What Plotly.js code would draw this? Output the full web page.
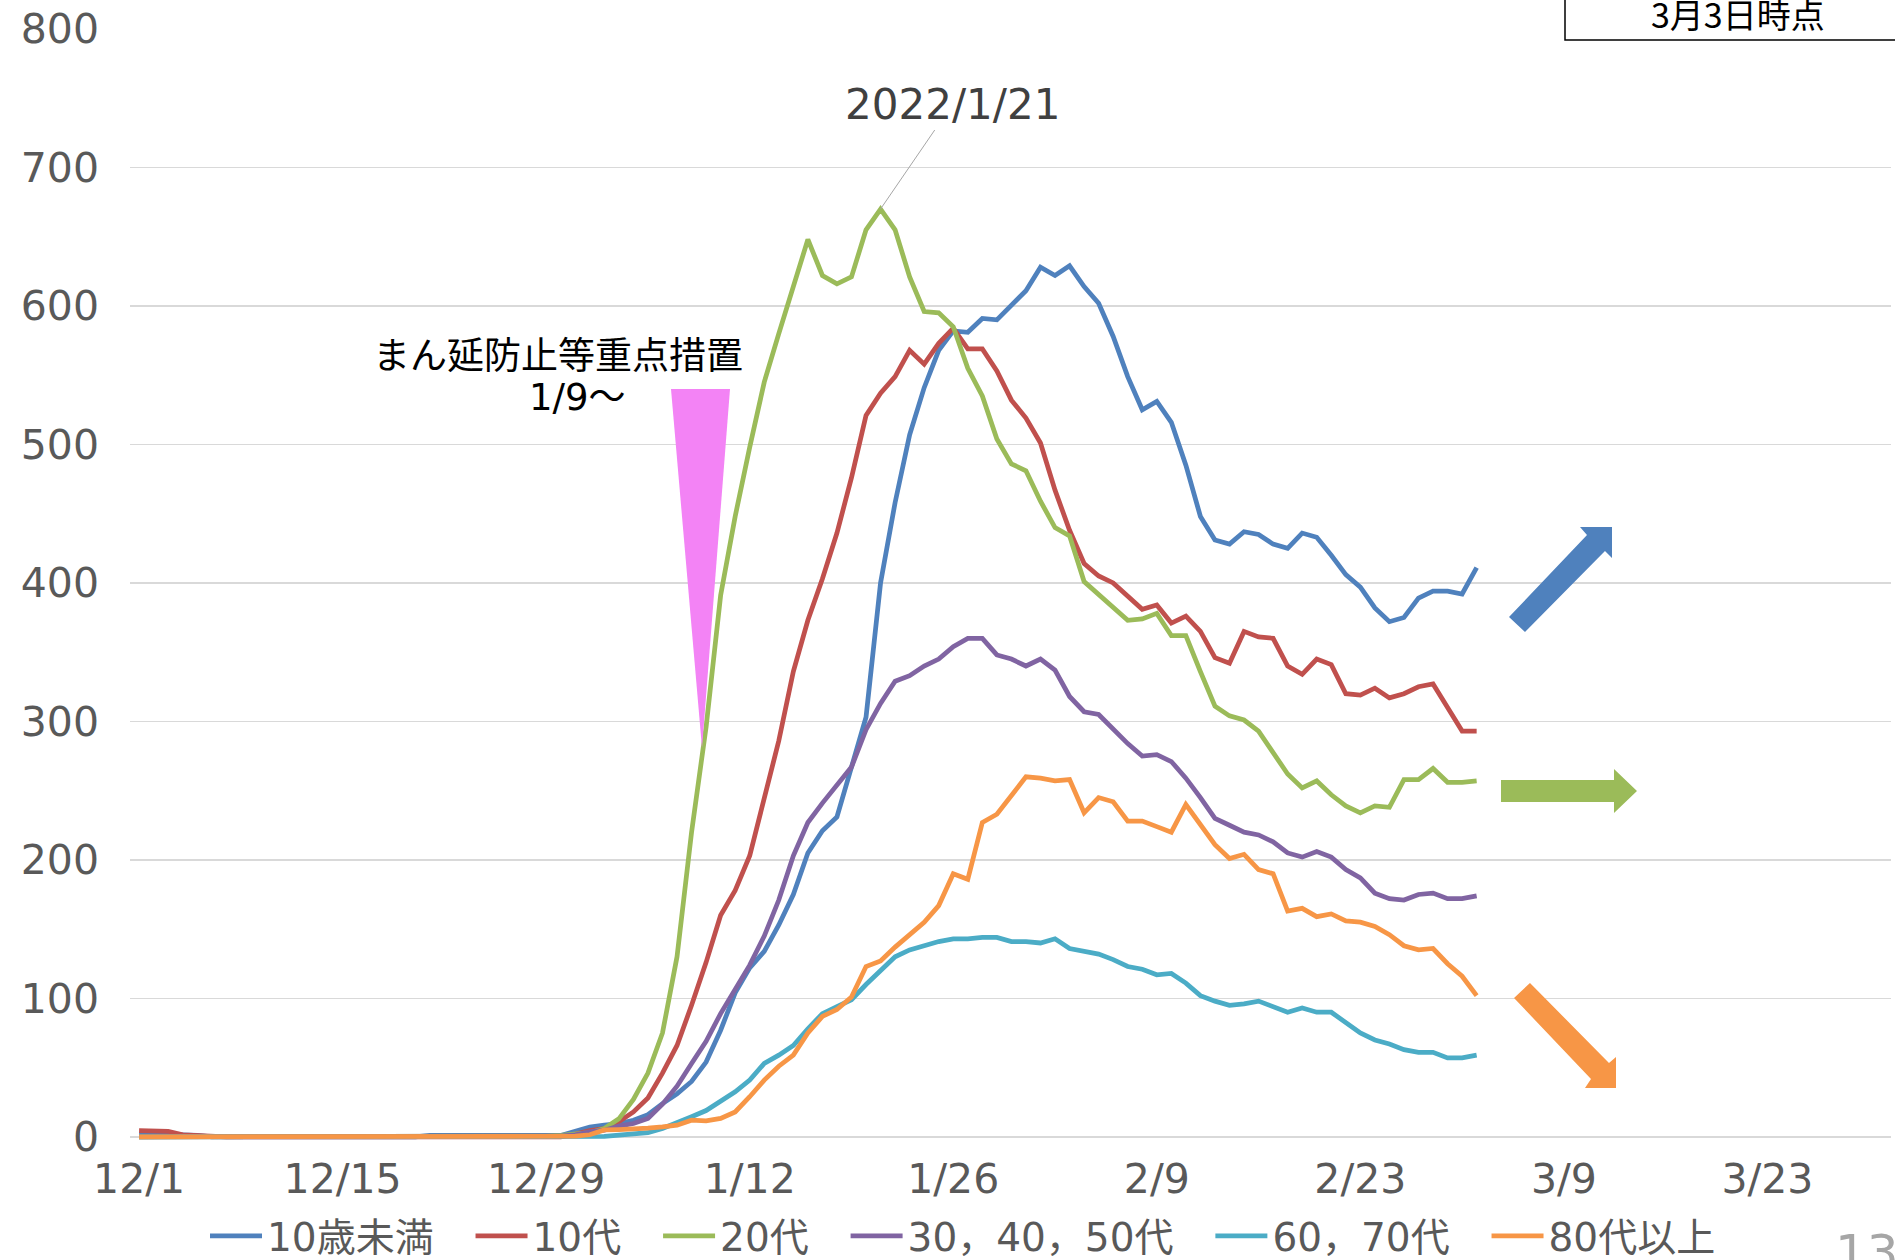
<!DOCTYPE html>
<html><head><meta charset="utf-8">
<script src="https://cdn.plot.ly/plotly-3.0.1.min.js"></script>
<style>html,body{margin:0;padding:0;background:#fff;} #chart{width:1895px;height:1260px;}</style>
</head><body><div id="chart"></div>
<script>
const dates = [
'2021-12-01','2021-12-02','2021-12-03','2021-12-04','2021-12-05','2021-12-06','2021-12-07','2021-12-08','2021-12-09','2021-12-10',
'2021-12-11','2021-12-12','2021-12-13','2021-12-14','2021-12-15','2021-12-16','2021-12-17','2021-12-18','2021-12-19','2021-12-20',
'2021-12-21','2021-12-22','2021-12-23','2021-12-24','2021-12-25','2021-12-26','2021-12-27','2021-12-28','2021-12-29','2021-12-30',
'2021-12-31','2022-01-01','2022-01-02','2022-01-03','2022-01-04','2022-01-05','2022-01-06','2022-01-07','2022-01-08','2022-01-09',
'2022-01-10','2022-01-11','2022-01-12','2022-01-13','2022-01-14','2022-01-15','2022-01-16','2022-01-17','2022-01-18','2022-01-19',
'2022-01-20','2022-01-21','2022-01-22','2022-01-23','2022-01-24','2022-01-25','2022-01-26','2022-01-27','2022-01-28','2022-01-29',
'2022-01-30','2022-01-31','2022-02-01','2022-02-02','2022-02-03','2022-02-04','2022-02-05','2022-02-06','2022-02-07','2022-02-08',
'2022-02-09','2022-02-10','2022-02-11','2022-02-12','2022-02-13','2022-02-14','2022-02-15','2022-02-16','2022-02-17','2022-02-18',
'2022-02-19','2022-02-20','2022-02-21','2022-02-22','2022-02-23','2022-02-24','2022-02-25','2022-02-26','2022-02-27','2022-02-28',
'2022-03-01','2022-03-02','2022-03-03'];

const tickVals = ['2021-12-01','2021-12-15','2021-12-29','2022-01-12','2022-01-26','2022-02-09','2022-02-23','2022-03-09','2022-03-23'];
const tickText = ['12/1','12/15','12/29','1/12','1/26','2/9','2/23','3/9','3/23'];

const seriesNames = ['10歳未満','10代','20代','30，40，50代','60，70代','80代以上'];

const under10 = [2,2,2,1.5,1, 0,0,0,0,0,0,0,0,0,0,0,0,0,0,0, 1,1,1,1,1,1,1,1,1,1,
 4,7,8.4,9.6,12,16,24,31,40,
 54,77,104,122,134,153,175,205,221,231,
 266,303,400,458,507,541,568,582,581,591,
 590,601,611,628,622,629,614,602,578,549,
 525,531,516,485,448,431,428,437,435,428,
 425,436,433,420,406,397,382,372,375,389,
 394,394,392,411];

const teens = [4.5,4.5,4,1.5,1, 0,0,0,0,0,0,0,0,0,0,0,0,0,0,0,0,0,0,0,0,0,0,0,0,0,
 2,4.5,6,11,18,28,46,66,95,
 126,160,178,203,243,286,336,373,403,436,
 476,521,537,549,568,558,573,584,569,569,
 553,532,519,501,467,438,414,405,400,390,
 381,384,371,376,365,346,342,365,361,360,
 340,334,345,341,320,319,324,317,320,325,
 327,310,293,293];

const twenties = [0,0,0,0,0,0,0,0,0,0,0,0,0,0,0,0,0,0,0,0,0,0,0,0,0,0,0,0,
 0.5,1,2,3,6,13,27,46,75,130,220,
 296,391,448,498,545,580,614,648,622,616,
 621,655,670,655,621,596,595,585,555,535,
 504,486,481,459,440,434,401,392,383,373,
 374,378,362,362,336,311,304,301,293,277,
 262,252,257,247,239,234,239,238,258,258,
 266,256,256,257];

const mid = [0,0,0,0,0,0,0,0,0,0,0,0,0,0,0,0,0,0,0,0, 0.5,0.5,0.5,0.5,0.5,0.5,0.5,0.5,0.5,0.5,
 1.5,3.6,4.8,7.7,9.6,13.3,23.6,36.6,53,
 69,89,106,124,145,171,203,227,241,254,
 267,294,313,329,333,340,345,354,360,360,
 348,345,340,345,337,318,307,305,294,284,
 275,276,271,259,245,230,225,220,218,213,
 205,202,206,202,193,187,176,172,171,175,
 176,172,172,174];

const senior = [0,0,0,0,0,0,0,0,0,0,0,0,0,0,0,0,0,0,0,0,0,0,0,0,0,0,0,0,0,0,0,0,
 0.3,1.2,2,3,6,10,14.5,
 19,26,32.5,41,53,59,66,78,89,94,
 99,110,120,130,135,138,141,143,143,144,
 144,141,141,140,143,136,134,132,128,123,
 121,117,118,111,102,98,95,96,98,94,
 90,93,90,90,83,75,70,67,63,61,
 61,57,57,59];

const over80 = [0,0,0,0,0,0,0,0,0,0,0,0,0,0,0,0,0,0,0,0,0,0,0,0,0,0,0,0,0,0.5,0.5,
 1.5,5,5.3,5.5,6.3,7.2,8.4,12,
 11.6,13.3,18,29,41,51,59,75,87,92,
 101,123,127,137,146,155,167,190,186,227,
 233,246,260,259,257,258,234,245,242,228,
 228,224,220,240,226,211,201,204,193,190,
 163,165,159,161,156,155,152,146,138,135,
 136,125,116,102];

const seriesValues = [under10, teens, twenties, mid, senior, over80];
const seriesColors = ['#4F81BD','#C0504D','#9BBB59','#8064A2','#4BACC6','#F79646'];

const W = 1895, H = 1260, L = 130, R = 4, T = 29, B = 119;
const pw = W - L - R, ph = H - T - B;
function px(x){ return (x - L) / pw; }
function py(y){ return (H - B - y) / ph; }
function poly(pts){ return 'M' + pts.map(p => px(p[0]).toFixed(5) + ',' + py(p[1]).toFixed(5)).join(' L') + ' Z'; }

const fontMain = "'DejaVu Sans', 'Noto Sans CJK JP', sans-serif";
const fontCJK = "'Noto Sans CJK JP', sans-serif";
const legendPad = '\u2002\u00a0';

const traces = seriesNames.map((n, i) => ({
  x: dates, y: seriesValues[i], name: n + (i < seriesNames.length - 1 ? legendPad : ''),
  type: 'scatter', mode: 'lines',
  line: {color: seriesColors[i], width: 4.75}
}));

const layout = {
  width: W, height: H,
  margin: {l: L, r: R, t: T, b: B, pad: 0, autoexpand: false},
  paper_bgcolor: '#fff', plot_bgcolor: '#fff',
  showlegend: true,
  legend: {orientation: 'h', x: px(963), xanchor: 'center', y: py(1236), yanchor: 'middle',
           itemwidth: 52,
           font: {family: fontMain, size: 39, color: '#595959'}, bgcolor: 'rgba(0,0,0,0)'},
  xaxis: {type: 'date', range: ['2021-11-30 09:00', '2022-03-31 12:00'],
          tickmode: 'array', tickvals: tickVals, ticktext: tickText,
          showgrid: false, zeroline: false, showline: false, ticks: '',
          tickfont: {family: fontMain, size: 41, color: '#595959'}, ticklabelstandoff: 10},
  yaxis: {range: [-3, 800], tickmode: 'linear', tick0: 0, dtick: 100,
          showgrid: true, gridcolor: '#D9D9D9', gridwidth: 1.5,
          zeroline: true, zerolinecolor: '#D9D9D9', zerolinewidth: 1.5,
          showline: false, ticks: '',
          tickfont: {family: fontMain, size: 41, color: '#595959'}, ticklabelstandoff: 30},
  shapes: [
    {type: 'path', xref: 'paper', yref: 'paper', path: poly([[671,389],[730,389],[702,748]]),
     fillcolor: '#F383F5', line: {width: 0}},
    {type: 'rect', xref: 'paper', yref: 'paper', x0: px(1565), x1: px(1910), y0: py(40), y1: py(-20),
     fillcolor: '#fff', line: {color: '#000', width: 1.5}},
    {type: 'path', xref: 'paper', yref: 'paper',
     path: poly([[1509,617],[1587,535],[1580,527],[1612,527],[1612,558],[1605,551],[1525,632]]),
     fillcolor: '#4F81BD', line: {width: 0}},
    {type: 'path', xref: 'paper', yref: 'paper',
     path: poly([[1501,780],[1614,780],[1614,769],[1637,791],[1614,813],[1614,802],[1501,802]]),
     fillcolor: '#9BBB59', line: {width: 0}},
    {type: 'path', xref: 'paper', yref: 'paper',
     path: poly([[1514,998],[1591,1079],[1585,1088],[1616,1088],[1616,1057],[1609,1063],[1530,983]]),
     fillcolor: '#F79646', line: {width: 0}}
  ],
  annotations: [
    {x: dates[51], y: twenties[51], xref: 'x', yref: 'y', text: '2022/1/21',
     showarrow: true, arrowhead: 0, arrowwidth: 1, arrowcolor: '#A6A6A6', ax: 72, ay: -105,
     font: {family: fontMain, size: 42, color: '#404040'}},
    {xref: 'paper', yref: 'paper', x: px(558), y: py(353), xanchor: 'center', yanchor: 'middle',
     text: 'まん延防止等重点措置', showarrow: false,
     font: {family: fontCJK, size: 37, color: '#000'}},
    {xref: 'paper', yref: 'paper', x: px(577), y: py(397), xanchor: 'center', yanchor: 'middle',
     text: '1/9～', showarrow: false,
     font: {family: fontMain, size: 37, color: '#000'}},
    {xref: 'paper', yref: 'paper', x: px(1738), y: py(14), xanchor: 'center', yanchor: 'middle',
     text: '3月3日時点', showarrow: false,
     font: {family: fontCJK, size: 34, color: '#000'}},
    {xref: 'paper', yref: 'paper', x: px(1867), y: py(1222), xanchor: 'center', yanchor: 'top',
     text: '13', showarrow: false,
     font: {family: fontMain, size: 50, color: '#A6A6A6'}}
  ]
};

Plotly.newPlot('chart', traces, layout, {staticPlot: true, displayModeBar: false});
</script>
</body></html>
